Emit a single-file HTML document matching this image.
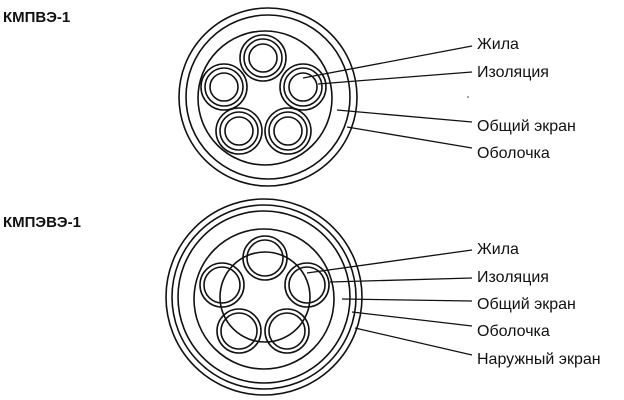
<!DOCTYPE html>
<html><head><meta charset="utf-8"><style>body{margin:0;background:#fff}svg{display:block}</style></head>
<body>
<svg width="624" height="400" viewBox="0 0 624 400" xmlns="http://www.w3.org/2000/svg" font-family="Liberation Sans, sans-serif">
<g fill="none" stroke="#111" stroke-width="1.6">
<circle cx="268" cy="97" r="89"/><circle cx="268" cy="97" r="82"/><circle cx="265" cy="98" r="67"/>
<circle cx="263" cy="58" r="23"/><circle cx="263" cy="58" r="19"/><circle cx="263" cy="58" r="14"/>
<circle cx="224" cy="87" r="23"/><circle cx="224" cy="87" r="19"/><circle cx="224" cy="87" r="14"/>
<circle cx="303" cy="87" r="23"/><circle cx="303" cy="87" r="19"/><circle cx="303" cy="87" r="14"/>
<circle cx="239" cy="131" r="23"/><circle cx="239" cy="131" r="19"/><circle cx="239" cy="131" r="14"/>
<circle cx="288" cy="131" r="23"/><circle cx="288" cy="131" r="19"/><circle cx="288" cy="131" r="14"/>
<circle cx="264" cy="297" r="98"/><circle cx="264" cy="297" r="92"/><circle cx="264" cy="297" r="86"/><circle cx="264" cy="299" r="70"/>
<circle cx="265" cy="297" r="45"/>
<circle cx="265" cy="258" r="22"/><circle cx="265" cy="258" r="18"/>
<circle cx="222" cy="285" r="22"/><circle cx="222" cy="285" r="18"/>
<circle cx="307" cy="285" r="22"/><circle cx="307" cy="285" r="18"/>
<circle cx="239" cy="331" r="22"/><circle cx="239" cy="331" r="18"/>
<circle cx="287" cy="331" r="22"/><circle cx="287" cy="331" r="18"/>
<g stroke-width="1.3">
<line x1="303" y1="78" x2="472" y2="46"/><line x1="318" y1="84" x2="472" y2="72"/>
<line x1="337" y1="110" x2="472" y2="122"/><line x1="347" y1="127" x2="472" y2="148"/>
<line x1="307" y1="273" x2="472" y2="250"/><line x1="330" y1="282" x2="472" y2="278"/>
<line x1="342" y1="299" x2="472" y2="301"/><line x1="352" y1="312" x2="472" y2="326"/>
<line x1="355" y1="328" x2="472" y2="355"/>
</g>
</g>
<circle cx="468" cy="97" r="0.8" fill="#333"/>
<g font-size="16" fill="#111">
<text x="3" y="22" font-weight="bold" font-size="15">КМПВЭ-1</text>
<text x="3" y="227" font-weight="bold" font-size="15">КМПЭВЭ-1</text>
<text x="477" y="49">Жила</text><text x="477" y="77">Изоляция</text>
<text x="477" y="131">Общий экран</text><text x="477" y="158">Оболочка</text>
<text x="477" y="254">Жила</text><text x="477" y="282">Изоляция</text>
<text x="477" y="309">Общий экран</text><text x="477" y="336">Оболочка</text>
<text x="477" y="364">Наружный экран</text>
</g>
</svg>
</body></html>
